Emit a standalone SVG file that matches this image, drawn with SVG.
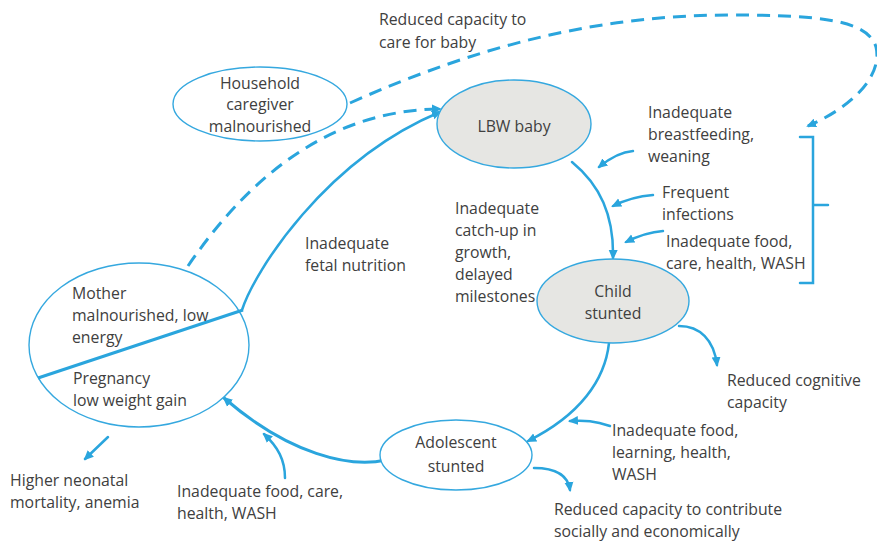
<svg xmlns="http://www.w3.org/2000/svg" width="877" height="541" viewBox="0 0 877 541">
<defs>
<style>
.t{font-family:"Open Sans","Noto Sans",sans-serif;font-size:15.8px;fill:#404040}
.c{text-anchor:middle}
.node{stroke:#35A8DF;stroke-width:1.4}
.w{fill:#fff}
.g{fill:#E6E6E3}
.ln{fill:none;stroke:#2AA5DD;stroke-width:2.5;stroke-linecap:round}
.dash{fill:none;stroke:#2AA5DD;stroke-width:3;stroke-dasharray:13 8}
</style>
<marker id="ah" viewBox="0 0 10 10" refX="8" refY="5" markerWidth="10" markerHeight="10" markerUnits="userSpaceOnUse" orient="auto">
<path d="M0,0.5 L10,5 L0,9.5 Z" fill="#2AA5DD"/>
</marker>
</defs>
<rect width="877" height="541" fill="#fff"/>

<g id="connectors">
<path class="ln" d="M242,310 C254,272 325,160 440,112" marker-end="url(#ah)"/>
<path class="dash" d="M188,266 C240,190 320,110 440,109" marker-end="url(#ah)"/>
<path class="dash" d="M350,103 C480,45 600,15 730,15 C820,15 868,20 876,47 C883,77 850,108 808,126" marker-end="url(#ah)"/>
<path class="ln" d="M800,137 L813,137 L813,205 L828,205 M813,205 L813,283 L800,283"/>
<path class="ln" d="M572,162 C600,185 614,215 613,258" marker-end="url(#ah)"/>
<path class="ln" d="M633,151 C620,152 610,158 599,167" marker-end="url(#ah)"/>
<path class="ln" d="M653,195 C640,196 625,200 613,206" marker-end="url(#ah)"/>
<path class="ln" d="M663,231 C650,232 638,236 626,242" marker-end="url(#ah)"/>
<path class="ln" d="M609,343 C605,380 580,415 528,441" marker-end="url(#ah)"/>
<path class="ln" d="M679,326 C700,326 714,340 717,365" marker-end="url(#ah)"/>
<path class="ln" d="M610,426 C595,421 585,420 570,421" marker-end="url(#ah)"/>
<path class="ln" style="stroke-width:3" d="M386,460 C350,468 290,455 224,398" marker-end="url(#ah)"/>
<path class="ln" d="M285,478 C285,460 278,447 264,434" marker-end="url(#ah)"/>
<path class="ln" d="M534,468 C555,468 568,475 570,490" marker-end="url(#ah)"/>
<path class="ln" d="M108,437 L85,459" marker-end="url(#ah)"/>
</g>

<g id="household">
<ellipse class="node w" cx="260" cy="104" rx="87" ry="37"/>
<text class="t c" x="260" y="89">Household</text>
<text class="t c" x="260" y="110">caregiver</text>
<text class="t c" x="260" y="132">malnourished</text>
</g>

<g id="lbw">
<ellipse class="node g" cx="514" cy="124" rx="77" ry="44"/>
<text class="t c" x="514" y="132">LBW baby</text>
</g>

<g id="child">
<ellipse class="node g" cx="613" cy="301" rx="76" ry="42"/>
<text class="t c" x="613" y="297">Child</text>
<text class="t c" x="613" y="319">stunted</text>
</g>

<g id="adolescent">
<ellipse class="node w" cx="456" cy="455" rx="76" ry="35"/>
<text class="t c" x="456" y="448">Adolescent</text>
<text class="t c" x="456" y="472">stunted</text>
</g>

<g id="mother">
<ellipse class="node w" cx="139" cy="345" rx="110" ry="82"/>
<line x1="38" y1="378" x2="243" y2="310" stroke="#2AA5DD" stroke-width="3"/>
<text class="t" x="72" y="299">Mother</text>
<text class="t" x="72" y="321">malnourished, low</text>
<text class="t" x="72" y="343">energy</text>
<text class="t" x="73" y="384">Pregnancy</text>
<text class="t" x="73" y="406">low weight gain</text>
</g>

<g id="labels">
<text class="t" x="379" y="25">Reduced capacity to</text>
<text class="t" x="379" y="48">care for baby</text>
<text class="t" x="648" y="118">Inadequate</text>
<text class="t" x="648" y="140">breastfeeding,</text>
<text class="t" x="648" y="162">weaning</text>
<text class="t" x="662" y="198">Frequent</text>
<text class="t" x="662" y="220">infections</text>
<text class="t" x="666" y="247">Inadequate food,</text>
<text class="t" x="666" y="269">care, health, WASH</text>
<text class="t" x="455" y="214">Inadequate</text>
<text class="t" x="455" y="236">catch-up in</text>
<text class="t" x="455" y="258">growth,</text>
<text class="t" x="455" y="280">delayed</text>
<text class="t" x="455" y="302">milestones</text>
<text class="t" x="305" y="249">Inadequate</text>
<text class="t" x="305" y="271">fetal nutrition</text>
<text class="t" x="727" y="386">Reduced cognitive</text>
<text class="t" x="727" y="408">capacity</text>
<text class="t" x="612" y="436">Inadequate food,</text>
<text class="t" x="612" y="458">learning, health,</text>
<text class="t" x="612" y="480">WASH</text>
<text class="t" x="10" y="486">Higher neonatal</text>
<text class="t" x="10" y="508">mortality, anemia</text>
<text class="t" x="177" y="497">Inadequate food, care,</text>
<text class="t" x="177" y="519">health, WASH</text>
<text class="t" x="554" y="515">Reduced capacity to contribute</text>
<text class="t" x="554" y="537">socially and economically</text>
</g>
</svg>
